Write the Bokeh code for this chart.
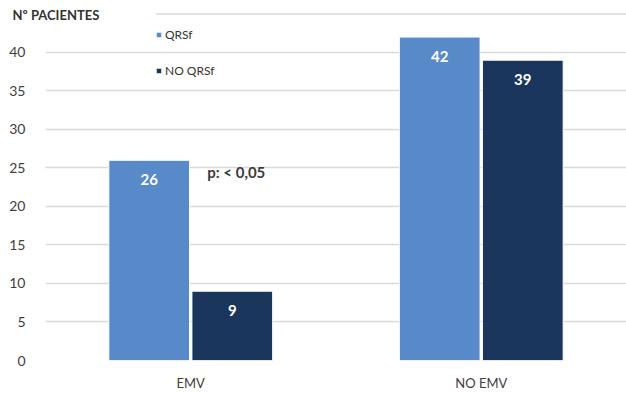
from bokeh.plotting import figure
from bokeh.models import (ColumnDataSource, FactorRange, Range1d, FixedTicker, Legend, LegendItem,
                          LabelSet, Title)
from bokeh.transform import dodge
from bokeh.core.properties import value
from bokeh.embed import file_html
from bokeh.resources import INLINE

categories = ["EMV", "NO EMV"]
series_names = ["QRSf", "NO QRSf"]
qrsf = [26, 42]
no_qrsf = [9, 39]
y_ticks = [0, 5, 10, 15, 20, 25, 30, 35, 40]
y_axis_title = "Nº PACIENTES"
p_text = "p: < 0,05"

LIGHT = "#5889C9"
DARK = "#1B365D"
FONT = "Lato"

src = ColumnDataSource(dict(cat=categories, qrsf=qrsf, no_qrsf=no_qrsf,
                            qrsf_lbl=[str(v) for v in qrsf],
                            no_qrsf_lbl=[str(v) for v in no_qrsf]))

title = Title(text=y_axis_title, align="left", vertical_align="bottom", offset=-33, standoff=-34,
              text_font=FONT, text_font_size="13px", text_font_style="bold", text_color="#333333")

p = figure(width=626, height=393, output_backend="svg", toolbar_location=None,
           x_range=FactorRange(*categories, range_padding=0), y_range=Range1d(0, 46.1),
           min_border_left=45, min_border_right=0, min_border_top=5, min_border_bottom=31,
           title=title)
p.outline_line_color = None
p.background_fill_color = "white"

off = 0.143
w = 0.278
r1 = p.vbar(x=dodge("cat", -off, range=p.x_range), top="qrsf", width=w, source=src,
            fill_color=LIGHT, line_color="white", line_width=1)
r2 = p.vbar(x=dodge("cat", off, range=p.x_range), top="no_qrsf", width=w, source=src,
            fill_color=DARK, line_color="white", line_width=1)

for col, lbl, o in (("qrsf", "qrsf_lbl", -off), ("no_qrsf", "no_qrsf_lbl", off)):
    p.add_layout(LabelSet(x=dodge("cat", o, range=p.x_range), y=col, text=lbl, source=src,
                          y_offset=-19, text_align="center", text_baseline="middle",
                          text_color="white", text_font=value(FONT), text_font_size="15px",
                          text_font_style="bold"))

# p-value annotation
p.text(x=[0.557], y=[24.5], text=[p_text], text_font=value(FONT), text_font_size="15px",
       text_font_style="bold", text_color="#3a3a3a", text_align="left", text_baseline="middle")

# top gridline (45) partially covered by axis title
p.segment(x0=[0.38], x1=[2.0], y0=[45], y1=[45], line_color="#D9D9D9", line_width=1.5)

p.ygrid.ticker = FixedTicker(ticks=y_ticks)
p.ygrid.grid_line_color = "#D9D9D9"
p.ygrid.grid_line_width = 1.5
p.xgrid.grid_line_color = None

p.yaxis.ticker = FixedTicker(ticks=y_ticks)
p.yaxis.axis_line_color = None
p.yaxis.major_tick_line_color = None
p.yaxis.minor_tick_line_color = None
p.yaxis.major_label_standoff = 14
p.yaxis.major_label_text_font = FONT
p.yaxis.major_label_text_font_size = "14px"
p.yaxis.major_label_text_color = "#404040"

p.xaxis.axis_line_color = None
p.xaxis.major_tick_line_color = None
p.xaxis.major_tick_out = 0
p.xaxis.major_tick_in = 0
p.xaxis.major_label_standoff = 14
p.xaxis.major_label_text_font = FONT
p.xaxis.major_label_text_font_size = "13px"
p.xaxis.major_label_text_color = "#404040"

legend = Legend(items=[LegendItem(label=series_names[0], renderers=[r1]),
                       LegendItem(label=series_names[1], renderers=[r2])],
                location=(110, 282), orientation="vertical")
legend.glyph_width = 7
legend.glyph_height = 7
legend.label_height = 14
legend.spacing = 21
legend.padding = 0
legend.margin = 0
legend.border_line_color = None
legend.background_fill_alpha = 0
legend.label_text_font = FONT
legend.label_text_font_size = "12px"
legend.label_text_color = "#333333"
legend.label_standoff = 3
p.add_layout(legend)

open("out.html", "w").write(file_html(p, INLINE))
